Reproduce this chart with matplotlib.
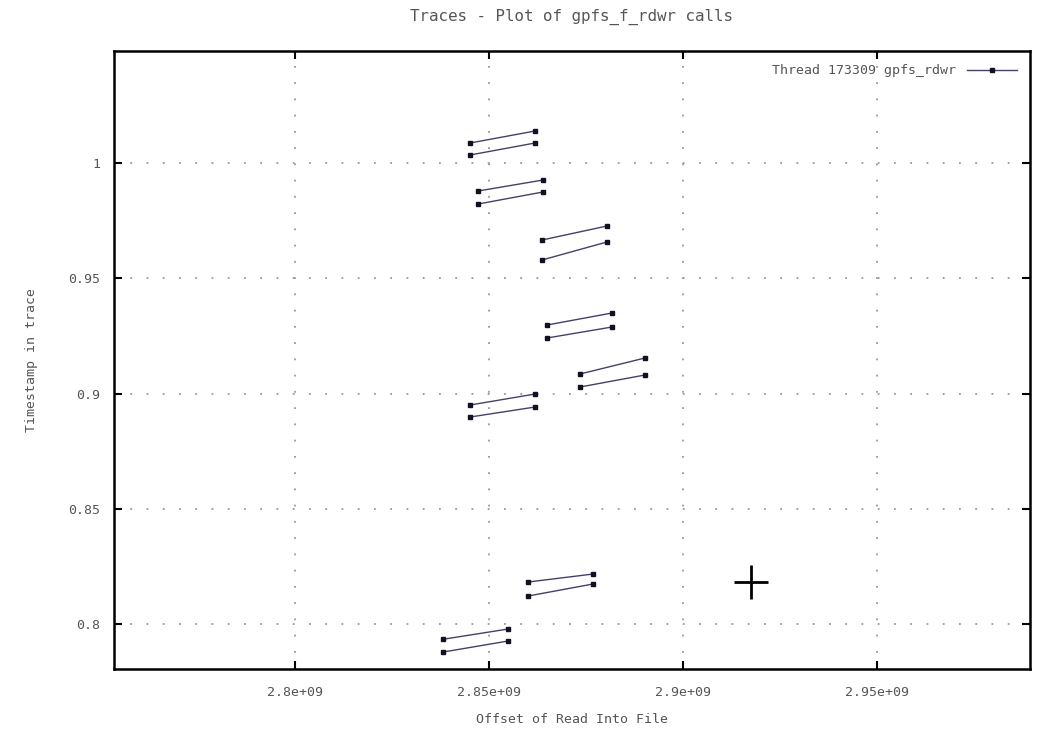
import numpy as np
import matplotlib
matplotlib.use("Agg")
import matplotlib.pyplot as plt
from matplotlib.ticker import FuncFormatter

# each call is one segment: (offset start, offset end), (timestamp start, timestamp end)
offset_start = [2.84511e9, 2.84511e9, 2.84717e9, 2.84717e9, 2.86365e9, 2.86365e9,
                2.86493e9, 2.86493e9, 2.87343e9, 2.87343e9, 2.84511e9, 2.84511e9,
                2.86004e9, 2.86004e9, 2.83816e9, 2.83816e9]
offset_end = [2.86184e9, 2.86184e9, 2.86390e9, 2.86390e9, 2.88038e9, 2.88038e9,
              2.88167e9, 2.88167e9, 2.89016e9, 2.89016e9, 2.86184e9, 2.86184e9,
              2.87678e9, 2.87678e9, 2.85489e9, 2.85489e9]
time_start = [1.00868, 1.00347, 0.98785, 0.98221, 0.96659, 0.95792,
              0.92972, 0.92408, 0.90846, 0.90282, 0.89501, 0.88980,
              0.81822, 0.81215, 0.79339, 0.78785]
time_end = [1.01388, 1.00868, 0.99262, 0.98742, 0.97267, 0.96573,
            0.93492, 0.92885, 0.91540, 0.90803, 0.89978, 0.89414,
            0.82169, 0.81736, 0.79783, 0.79262]

# mouse cross left in the gnuplot window
cursor_x = 2.91746e9
cursor_y = 0.81822

grey = '#555555'
plt.rcParams['font.family'] = 'DejaVu Sans Mono'
plt.rcParams['font.size'] = 9.5

fig, ax = plt.subplots(figsize=(10.38, 7.33), dpi=100)
plt.subplots_adjust(left=114/1038, right=1030/1038, top=1-51/733, bottom=1-669/733)

# build one line broken by nan, like gnuplot blank-line separated blocks
nan = np.full(len(offset_start), np.nan)
xs = np.column_stack([offset_start, offset_end, nan]).ravel()
ys = np.column_stack([time_start, time_end, nan]).ravel()
ax.plot(xs, ys, color='#44406a', lw=1.0, marker='s', ms=3.5,
        mfc='#111122', mec='#111122', label='Thread 173309 gpfs_rdwr')

ax.plot(cursor_x, cursor_y, marker='+', ms=24, mew=2, color='k')

ax.set_xlim(2.7534e9, 2.9894e9)
ax.set_ylim(0.7805, 1.0486)
ax.set_xticks([2.8e9, 2.85e9, 2.9e9, 2.95e9])
ax.set_yticks([0.8, 0.85, 0.9, 0.95, 1.0])
fmt = FuncFormatter(lambda v, p: '%g' % v)
ax.xaxis.set_major_formatter(fmt)
ax.yaxis.set_major_formatter(fmt)

ax.grid(True, color='#999999', lw=1.3, linestyle=(0, (1, 8)))
ax.tick_params(axis='both', which='both', direction='in', top=True, right=True,
               length=6, width=1.5, colors='k', labelcolor=grey)
ax.tick_params(axis='x', pad=12)
ax.tick_params(axis='y', pad=10)
for sp in ax.spines.values():
    sp.set_linewidth(1.8)

ax.set_title("Traces - Plot of gpfs_f_rdwr calls", color=grey, pad=22)
ax.set_xlabel("Offset of Read Into File", color=grey, labelpad=10)
ax.set_ylabel("Timestamp in trace", color=grey, labelpad=22)

leg = ax.legend(loc='upper right', frameon=False, markerfirst=False,
                handlelength=3.8, borderaxespad=0.6)
for t in leg.get_texts():
    t.set_color(grey)

plt.savefig("out.png", dpi=100)
